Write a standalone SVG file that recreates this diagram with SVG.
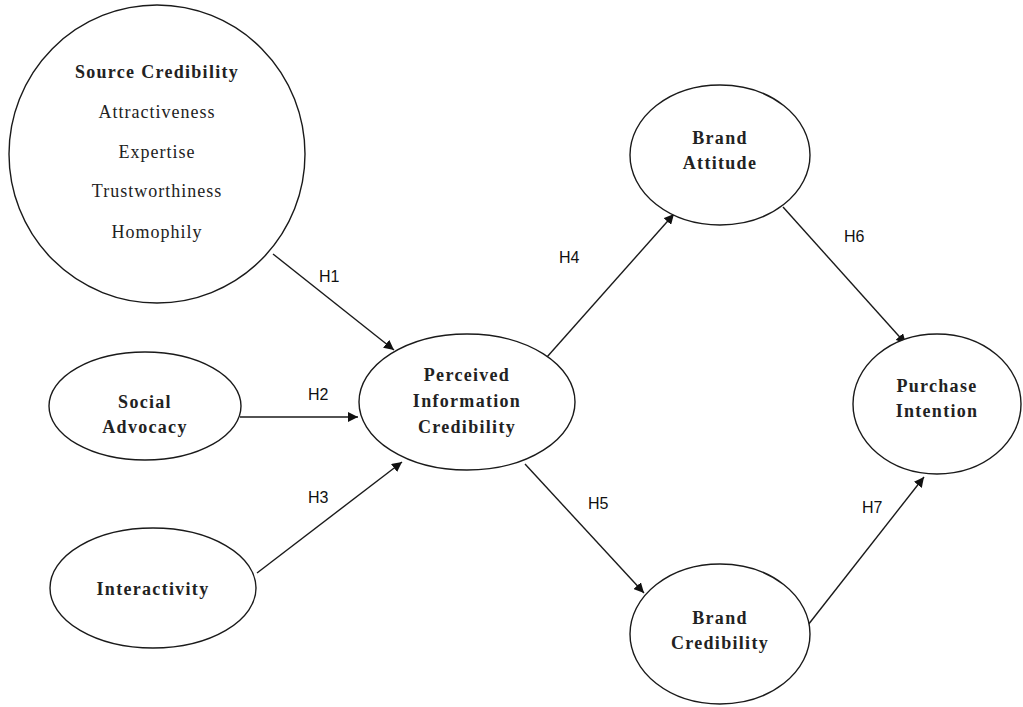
<svg xmlns="http://www.w3.org/2000/svg" width="1023" height="707" viewBox="0 0 1023 707">
<style>
.n{fill:#fff;stroke:#1a1a1a;stroke-width:1.4}
.t{font-family:"Liberation Serif","Times New Roman",serif;font-size:18px;fill:#222;text-anchor:middle;letter-spacing:1px}
.b{font-weight:bold;letter-spacing:1.3px}
.c{stroke:#1a1a1a;stroke-width:1.4;fill:none;marker-end:url(#ah)}
.l{font-family:"Liberation Sans",Arial,sans-serif;font-size:16px;fill:#111}
</style>
<defs>
<marker id="ah" viewBox="0 0 10 10" refX="10" refY="5" markerWidth="10" markerHeight="10" markerUnits="userSpaceOnUse" orient="auto">
<path d="M0,0 L10,5 L0,10 z" fill="#111"/>
</marker>
</defs>
<rect width="1023" height="707" fill="#fff"/>
<g id="connectors">
<line class="c" x1="273" y1="254" x2="394" y2="350"/>
<line class="c" x1="240" y1="417" x2="358" y2="417"/>
<line class="c" x1="257" y1="573" x2="402" y2="462"/>
<line class="c" x1="547" y1="357" x2="674" y2="214"/>
<line class="c" x1="525" y1="464" x2="644" y2="593"/>
<line class="c" x1="783" y1="207" x2="906" y2="344"/>
<line class="c" x1="808" y1="625" x2="924" y2="477"/>
<text class="l" x="319" y="282">H1</text>
<text class="l" x="308" y="400">H2</text>
<text class="l" x="308" y="503">H3</text>
<text class="l" x="559" y="263">H4</text>
<text class="l" x="588" y="509">H5</text>
<text class="l" x="844" y="242">H6</text>
<text class="l" x="862" y="513">H7</text>
</g>
<g id="source-credibility">
<ellipse class="n" cx="157" cy="154" rx="148" ry="149"/>
<text class="t b" x="157" y="78">Source Credibility</text>
<text class="t" x="157" y="118">Attractiveness</text>
<text class="t" x="157" y="158">Expertise</text>
<text class="t" x="157" y="197">Trustworthiness</text>
<text class="t" x="157" y="238">Homophily</text>
</g>
<g id="social-advocacy">
<ellipse class="n" cx="145" cy="406" rx="96" ry="54"/>
<text class="t b" x="145" y="408">Social</text>
<text class="t b" x="145" y="433">Advocacy</text>
</g>
<g id="interactivity">
<ellipse class="n" cx="153" cy="588" rx="103" ry="60"/>
<text class="t b" x="153" y="595">Interactivity</text>
</g>
<g id="perceived-information-credibility">
<ellipse class="n" cx="467" cy="402" rx="108" ry="68"/>
<text class="t b" x="467" y="381">Perceived</text>
<text class="t b" x="467" y="407">Information</text>
<text class="t b" x="467" y="433">Credibility</text>
</g>
<g id="brand-attitude">
<ellipse class="n" cx="720" cy="155" rx="90" ry="70"/>
<text class="t b" x="720" y="144">Brand</text>
<text class="t b" x="720" y="169">Attitude</text>
</g>
<g id="brand-credibility">
<ellipse class="n" cx="720" cy="634" rx="90" ry="70"/>
<text class="t b" x="720" y="624">Brand</text>
<text class="t b" x="720" y="649">Credibility</text>
</g>
<g id="purchase-intention">
<ellipse class="n" cx="937" cy="404" rx="84" ry="70"/>
<text class="t b" x="937" y="392">Purchase</text>
<text class="t b" x="937" y="417">Intention</text>
</g>
</svg>
